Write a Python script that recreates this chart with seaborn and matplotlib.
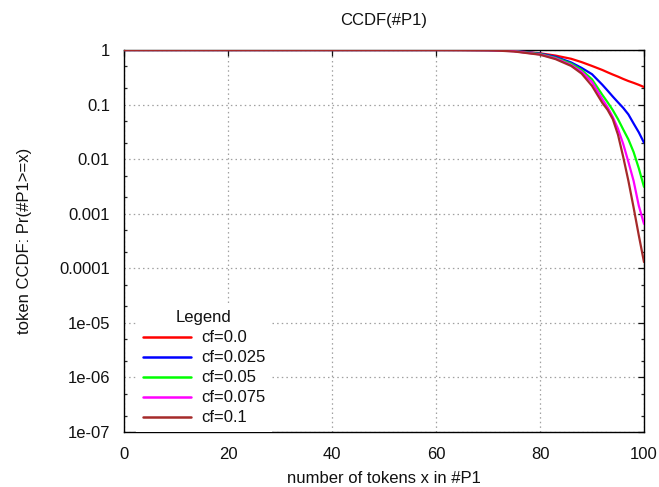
import numpy as np
import pandas as pd
import matplotlib
matplotlib.use("Agg")
import matplotlib.pyplot as plt
import seaborn as sns
from matplotlib.ticker import LogLocator, FixedLocator, NullFormatter

# token counts (x) and CCDF values for each cf setting
x_tokens = [0, 20, 40, 60, 65, 70, 75, 80, 83, 86, 88, 90, 92, 93, 94, 95, 96, 97, 98, 99, 100]
ccdf_cf_000 = [1, 1, 1, 1, 0.995, 0.985, 0.96, 0.87, 0.79, 0.69, 0.6, 0.51, 0.43, 0.39,
               0.355, 0.325, 0.295, 0.27, 0.25, 0.23, 0.21]
ccdf_cf_025 = [1, 1, 1, 1, 1, 0.995, 0.965, 0.86, 0.75, 0.59, 0.47, 0.36, 0.23, 0.18,
               0.14, 0.11, 0.087, 0.066, 0.045, 0.031, 0.02]
ccdf_cf_050 = [1, 1, 1, 1, 1, 0.995, 0.955, 0.845, 0.72, 0.56, 0.43, 0.29, 0.15, 0.11,
               0.079, 0.054, 0.035, 0.023, 0.0135, 0.0068, 0.0031]
ccdf_cf_075 = [1, 1, 1, 1, 1, 0.995, 0.95, 0.83, 0.7, 0.53, 0.4, 0.26, 0.125, 0.089,
               0.059, 0.036, 0.019, 0.0089, 0.004, 0.0014, 0.00065]
ccdf_cf_100 = [1, 1, 1, 1, 1, 0.995, 0.94, 0.82, 0.68, 0.51, 0.37, 0.22, 0.107, 0.08,
               0.054, 0.028, 0.011, 0.004, 0.0013, 0.0004, 0.00013]

series_labels = ["cf=0.0", "cf=0.025", "cf=0.05", "cf=0.075", "cf=0.1"]
series_values = [ccdf_cf_000, ccdf_cf_025, ccdf_cf_050, ccdf_cf_075, ccdf_cf_100]
series_colors = ["#ff0000", "#0000ff", "#00ff00", "#ff00ff", "#a52a2a"]

x_ticks = [0, 20, 40, 60, 80, 100]
y_ticks = [1, 0.1, 0.01, 0.001, 0.0001, 1e-05, 1e-06, 1e-07]
y_tick_labels = ["1", "0.1", "0.01", "0.001", "0.0001", "1e-05", "1e-06", "1e-07"]

df = pd.DataFrame({
    "x": np.tile(x_tokens, len(series_labels)),
    "ccdf": np.concatenate(series_values),
    "series": np.repeat(series_labels, len(x_tokens)),
})

sns.set_theme(style="white")
plt.rcParams["font.family"] = ["Liberation Sans", "DejaVu Sans"]
plt.rcParams["text.color"] = "#111111"
plt.rcParams["axes.labelcolor"] = "#111111"

fig = plt.figure(figsize=(6.59, 4.87), dpi=100)
ax = fig.add_axes([124 / 659, 55 / 487, 520 / 659, 382 / 487])

sns.lineplot(data=df, x="x", y="ccdf", hue="series", hue_order=series_labels,
             palette=series_colors, linewidth=1.6, ax=ax, legend=False, zorder=3)

ax.set_yscale("log")
ax.set_xlim(0, 100)
ax.set_ylim(1e-07, 1)

ax.xaxis.set_major_locator(FixedLocator(x_ticks))
ax.set_xticklabels([str(t) for t in x_ticks])
ax.yaxis.set_major_locator(FixedLocator(y_ticks))
ax.set_yticklabels(y_tick_labels)
ax.yaxis.set_minor_locator(LogLocator(base=10, subs=(2.0, 5.0), numticks=20))
ax.yaxis.set_minor_formatter(NullFormatter())

ax.tick_params(axis="both", which="major", direction="in", length=4, width=0.9,
               top=True, right=True, labelsize=12, colors="#111111")
ax.tick_params(axis="x", which="major", pad=11)
ax.tick_params(axis="y", which="major", pad=10)
ax.tick_params(axis="y", which="minor", direction="in", length=2.5, width=0.9,
               left=True, right=True)

ax.grid(True, which="major", color="#a0a0a0", linestyle=(0, (1.2, 2.5)), linewidth=0.9)
ax.set_axisbelow(True)
for side in ["left", "bottom", "top", "right"]:
    ax.spines[side].set_visible(True)
    ax.spines[side].set_color("#000000")
    ax.spines[side].set_linewidth(1.0)

ax.set_title("CCDF(#P1)", fontsize=12, pad=18)
ax.set_xlabel("number of tokens x in #P1", fontsize=12, labelpad=6)
ax.set_ylabel("token CCDF: Pr(#P1>=x)", fontsize=12, labelpad=20)

handles = [plt.Line2D([], [], color=c, linewidth=1.8) for c in series_colors]
leg = ax.legend(handles, series_labels, title="Legend", loc="lower left",
                bbox_to_anchor=(0.023, 0.0), borderaxespad=0, borderpad=0.4,
                frameon=True, fancybox=False, facecolor="white", edgecolor="none",
                framealpha=1.0, fontsize=12, title_fontsize=12,
                handlelength=2.9, handletextpad=0.6, labelspacing=0.3)
leg.set_zorder(5)

fig.savefig("out.png", dpi=100)
